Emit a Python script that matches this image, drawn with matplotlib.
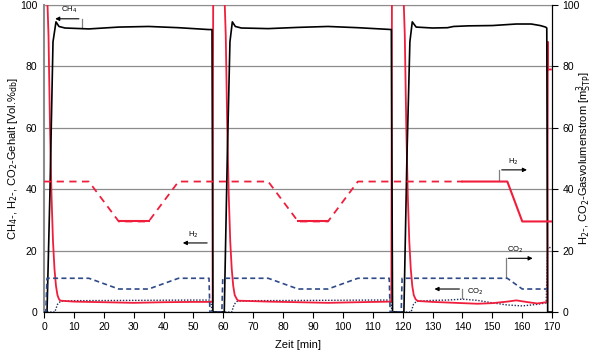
import numpy as np
import matplotlib.pyplot as plt

plt.rcParams['font.family'] = ['Liberation Sans', 'DejaVu Sans']

# CH4 content (black)
t_ch4 = [0, 1, 2, 3, 4, 5, 7, 15, 25, 35, 45, 55, 56.2, 56.5, 60.3, 61.3, 62.2, 63, 64, 66,
         75, 85, 95, 105, 116.2, 116.6, 120.4, 121.4, 122.4, 123.2, 124.5, 130, 135, 137,
         142, 150, 158, 163, 166, 167.8, 168.2, 168.5, 170]
ch4 = [0, 0, 40, 88, 94.5, 93, 92.5, 92.2, 92.8, 93, 92.6, 92, 92, 0, 0, 50, 88, 94.5, 93, 92.5,
       92.3, 92.7, 93, 92.6, 92, 0, 0, 50, 88, 94.5, 92.8, 92.5, 92.6, 93, 93.2, 93.3, 93.8,
       93.8, 93.3, 92.8, 92.5, 0, 0]

# H2 content (red solid)
t_h2 = [0, 1, 1.5, 2, 2.5, 3, 3.5, 4, 4.5, 5, 5.5, 10, 20, 30, 40, 50, 56.4, 56.6, 60.3, 60.8,
        61.3, 61.8, 62.3, 62.8, 63.3, 63.8, 64.5, 65, 75, 85, 95, 105, 116.2, 116.4, 120.2, 120.7,
        121.2, 121.7, 122.2, 122.7, 123.2, 123.7, 124.3, 125, 130, 135, 140, 145, 150, 155,
        158, 162, 165, 168, 168.4, 168.55, 168.65, 169.6]
h2 = [105, 105, 90, 60, 38, 23, 14, 8.5, 5.5, 4.2, 3.7, 3.4, 3.2, 3.0, 3.2, 3.3, 3.3, 105, 105,
      90, 60, 38, 23, 14, 8.5, 5.5, 4.2, 3.7, 3.4, 3.2, 3.0, 3.2, 3.4, 105, 105, 90, 60, 38, 23,
      14, 8.5, 5.5, 4.2, 3.6, 3.3, 3.1, 2.9, 2.7, 2.9, 3.4, 3.8, 3.2, 2.8, 3.2, 3.2, 88, 79, 79]

# CO2 content (dotted)
t_co2 = [0, 3.6, 4.5, 5.5, 10, 30, 50, 55.8, 56.2, 62.8, 63.6, 64.6, 70, 90, 110, 116, 116.4,
         122.8, 123.6, 124.6, 130, 135, 140, 145, 150, 155, 160, 165, 168, 168.5, 169.6]
co2 = [0, 0, 2.5, 3.5, 3.7, 3.8, 3.9, 3.9, 0, 0, 2.5, 3.5, 3.7, 3.8, 3.9, 3.9, 0, 0, 2.5, 3.5,
       3.8, 3.9, 4.2, 3.8, 3.0, 2.3, 2.0, 2.5, 3.0, 21, 21]

# H2 flow setpoint (red dashed) and measured (red solid)
t_h2f = [0, 15, 25, 35, 45, 75, 85, 95, 105, 140]
h2f = [42.5, 42.5, 29.5, 29.5, 42.5, 42.5, 29.5, 29.5, 42.5, 42.5]
t_h2m = [[25, 35], [85, 95], [140, 155, 160, 170]]
h2m = [[29.5, 29.5], [29.5, 29.5], [42.5, 42.5, 29.5, 29.5]]

# CO2 flow (blue dashed)
t_co2f = [0, 0.6, 1.0, 15, 25, 35, 45, 55.2, 55.5, 59.5, 59.8, 75, 85, 95, 105, 115.5, 115.8,
          119.5, 119.8, 155, 160, 168.3]
co2f = [0, 0, 11, 11, 7.5, 7.5, 11, 11, 0, 0, 11, 11, 7.5, 7.5, 11, 11, 0, 0, 11, 11, 7.5, 7.5]

red = '#f01e3c'
blue = '#2e4a87'

fig = plt.figure(figsize=(5.95, 3.55), dpi=100)
ax = fig.add_axes([0.074, 0.121, 0.854, 0.865])
ax2 = ax.twinx()

ax.plot(t_ch4, ch4, color='black', lw=1.2, zorder=5)
ax.plot(t_h2, h2, color=red, lw=1.3, zorder=4)
ax.plot(t_co2, co2, color='#1f2d5a', lw=1.0, ls=(0, (1, 1.2)), zorder=3)
ax2.plot(t_h2f, h2f, color=red, lw=1.3, ls=(0, (4, 3)))
for tt, vv in zip(t_h2m, h2m):
    ax2.plot(tt, vv, color=red, lw=1.5)
ax2.plot(t_co2f, co2f, color=blue, lw=1.2, ls=(0, (3, 2)))

for a in (ax, ax2):
    a.set_xlim(0, 170)
    a.set_ylim(0, 100)
ax.set_xticks(np.arange(0, 171, 10))
ax.set_yticks(np.arange(0, 101, 20))
ax2.set_yticks(np.arange(0, 101, 20))
ax.yaxis.grid(True, color='#8c8c8c', lw=0.9)
ax.set_axisbelow(True)

ax.spines['left'].set_color('#8c8c8c')
ax.spines['left'].set_linewidth(1.5)
ax.spines['top'].set_color('#8c8c8c')
ax2.spines['left'].set_visible(False)
ax2.spines['top'].set_visible(False)
ax.tick_params(axis='y', length=0, labelsize=7.5, pad=5)
ax.tick_params(axis='x', length=4, labelsize=7.5, direction='out')
ax2.tick_params(axis='y', length=4, labelsize=7.5, direction='out')

ax.set_xlabel('Zeit [min]', fontsize=8)
ax.xaxis.set_label_coords(0.5, -0.091)
ax.set_ylabel('CH$_4$-, H$_2$-, CO$_2$-Gehalt [Vol.%$_{\\mathrm{db}}$]', fontsize=8)
ax.yaxis.set_label_coords(-0.047, 0.5)
ax2.set_ylabel('H$_2$-, CO$_2$-Gasvolumenstrom [m$^{3}_{\\mathrm{STP}}$]', fontsize=8)
ax2.yaxis.set_label_coords(1.044, 0.5)

# annotations
akw = dict(arrowstyle='-|>', color='black', lw=0.8, mutation_scale=6)
gray = '#808080'
fs = 5.5
# CH4
ax.plot([12.6, 12.6], [92.5, 95.5], color=gray, lw=0.9)
ax.annotate('', xy=(2.8, 95.5), xytext=(12.6, 95.5), arrowprops=akw)
ax.text(8.3, 96.8, 'CH$_4$', fontsize=fs, ha='center', va='bottom')
# H2 content
ax.annotate('', xy=(45.5, 22.5), xytext=(55.5, 22.5), arrowprops=akw)
ax.text(50, 23.5, 'H$_2$', fontsize=fs, ha='center', va='bottom')
# H2 flow
ax.plot([152.2, 152.2], [42.7, 46.3], color=gray, lw=0.9)
ax.annotate('', xy=(162.5, 46.3), xytext=(152.2, 46.3), arrowprops=akw)
ax.text(157, 47.3, 'H$_2$', fontsize=fs, ha='center', va='bottom')
# CO2 flow
ax.plot([154.4, 154.4], [11.3, 17.5], color=gray, lw=0.9)
ax.annotate('', xy=(164.4, 17.5), xytext=(154.4, 17.5), arrowprops=akw)
ax.text(157.5, 18.5, 'CO$_2$', fontsize=fs, ha='center', va='bottom')
# CO2 content
ax.plot([139.9, 139.9], [4.5, 7.5], color=gray, lw=0.9)
ax.annotate('', xy=(129.7, 7.5), xytext=(139.9, 7.5), arrowprops=akw)
ax.text(141.5, 5.0, 'CO$_2$', fontsize=fs, ha='left', va='bottom')

fig.savefig('out.png', dpi=100)
